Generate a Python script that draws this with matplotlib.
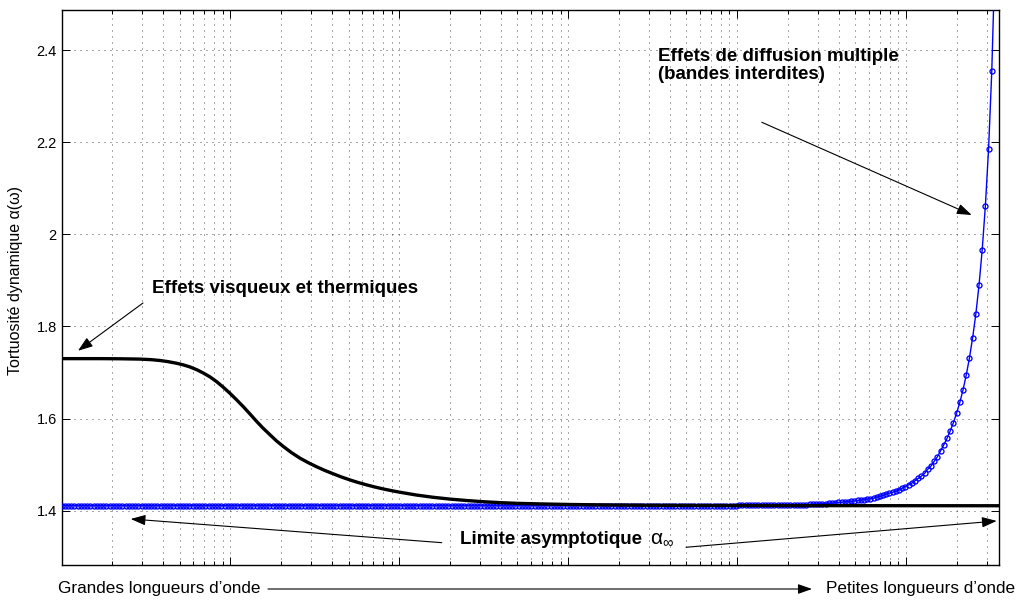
import numpy as np
import matplotlib
matplotlib.use("Agg")
import matplotlib.pyplot as plt
from matplotlib.ticker import LogLocator, NullFormatter, FixedLocator, FixedFormatter

plt.rcParams['font.family'] = ['Liberation Sans', 'DejaVu Sans']
plt.rcParams['mathtext.fontset'] = 'custom'
plt.rcParams['mathtext.rm'] = 'Liberation Sans'
plt.rcParams['mathtext.it'] = 'Liberation Sans:italic'
plt.rcParams['mathtext.bf'] = 'Liberation Sans:bold'

# ---------------- data ----------------
x_min, x_max = 1.0, 3.55e5
y_min, y_max = 1.282, 2.487
y_ticks = [1.4, 1.6, 1.8, 2.0, 2.2, 2.4]
y_tick_labels = ['1.4', '1.6', '1.8', '2', '2.2', '2.4']

# black curve: viscous & thermal effects (log10 of x, value)
black_logx = [0.000, 0.227, 0.350, 0.464, 0.530, 0.582, 0.630, 0.681, 0.720,
              0.760, 0.800, 0.838, 0.878, 0.918, 0.957, 0.996, 1.035, 1.075,
              1.115, 1.154, 1.193, 1.233, 1.272, 1.312, 1.360, 1.411, 1.460,
              1.509, 1.560, 1.608, 1.660, 1.707, 1.750, 1.805, 1.850, 1.904,
              1.950, 2.002, 2.100, 2.199, 2.300, 2.397, 2.500, 2.594, 2.700,
              2.831, 3.000, 3.186, 3.450, 3.778, 4.500, 5.550]
black_y = [1.7300, 1.7300, 1.7297, 1.7290, 1.7278, 1.7260, 1.7235, 1.7200, 1.7165,
           1.7120, 1.7060, 1.6990, 1.6905, 1.6800, 1.6680, 1.6550, 1.6410, 1.6260,
           1.6100, 1.5940, 1.5790, 1.5650, 1.5515, 1.5395, 1.5262, 1.5140, 1.5042,
           1.4954, 1.4870, 1.4800, 1.4726, 1.4667, 1.4617, 1.4560, 1.4517, 1.4471,
           1.4436, 1.4400, 1.4339, 1.4290, 1.4250, 1.4220, 1.4193, 1.4174, 1.4158,
           1.4146, 1.4134, 1.4125, 1.4117, 1.4112, 1.4108, 1.4106]

# blue curve: multiple scattering (sampled on a log grid)
blue_n = 293
blue_logx_end = 5.526
blue_flat = 1.4108
blue_tail = ([1.4110] * 6 + [1.4112] * 6 + [1.4115] * 6 + [1.4120] * 4 +
             [1.4125] * 3 + [1.4130] * 3 + [1.4140] * 3 + [1.4150] * 3 +
             [1.4160, 1.4160, 1.417, 1.418, 1.418, 1.419, 1.419, 1.420, 1.421,
              1.422, 1.423, 1.424, 1.425, 1.426, 1.427, 1.429, 1.431,
              1.433, 1.436, 1.438, 1.440, 1.442, 1.445, 1.449, 1.452, 1.456,
              1.460, 1.465, 1.470, 1.475, 1.481, 1.490, 1.497, 1.507, 1.517,
              1.530, 1.543, 1.557, 1.573, 1.591, 1.612, 1.635, 1.662, 1.694,
              1.731, 1.775, 1.826, 1.889, 1.966, 2.062, 2.186, 2.354, 2.600])
blue_y = [blue_flat] * (blue_n - len(blue_tail)) + blue_tail

black_x = 10.0 ** np.array(black_logx)
blue_x = np.logspace(0, blue_logx_end, blue_n)

# ---------------- figure ----------------
fig = plt.figure(figsize=(10.18, 6.02), dpi=100)
ax = fig.add_axes([0.0605, 0.0615, 0.9209, 0.9219])

ax.plot(blue_x, blue_y, color=(0, 0, 1), lw=1.0, marker='o', ms=3.6,
        mfc='none', mec=(0, 0, 1), mew=0.95, zorder=3)
ax.plot(black_x, black_y, color='k', lw=2.4, zorder=4,
        solid_capstyle='butt', solid_joinstyle='round')

ax.set_xscale('log')
ax.set_xlim(x_min, x_max)
ax.set_ylim(y_min, y_max)
ax.xaxis.set_major_locator(LogLocator(base=10, numticks=20))
ax.xaxis.set_minor_locator(LogLocator(base=10, subs=np.arange(2, 10), numticks=20))
ax.xaxis.set_major_formatter(NullFormatter())
ax.xaxis.set_minor_formatter(NullFormatter())
ax.yaxis.set_major_locator(FixedLocator(y_ticks))
ax.yaxis.set_major_formatter(FixedFormatter(y_tick_labels))

ax.tick_params(which='both', direction='in', top=True, right=True,
               labelbottom=False, width=0.7, color='k')
ax.tick_params(which='major', length=5.8, pad=3.5, labelsize=10.5)
ax.tick_params(which='minor', length=2.9)
ax.tick_params(axis='y', which='minor', left=False, right=False)

grid_kw = dict(color='k', lw=0.6, ls=(0, (1.2, 6)), alpha=0.8)
ax.grid(True, which='major', axis='both', **grid_kw)
ax.grid(True, which='minor', axis='x', **grid_kw)
for s in ax.spines.values():
    s.set_linewidth(1.0)

ax.set_ylabel('Tortuosité dynamique α(ω)', fontsize=11.5)
ax.yaxis.set_label_coords(-0.041, 0.512)

# annotations
ax.text(0.0964, 0.4895, 'Effets visqueux et thermiques', transform=ax.transAxes,
        ha='left', va='baseline', fontsize=13.5, fontweight='bold')
ax.text(0.6366, 0.8757, 'Effets de diffusion multiple\n(bandes interdites)',
        transform=ax.transAxes, ha='left', va='baseline', fontsize=13.5,
        fontweight='bold', linespacing=1.06)
ax.text(0.425, 0.0378, 'Limite asymptotique',
        transform=ax.transAxes, ha='left', va='baseline', fontsize=13.5,
        fontweight='bold')
ax.text(0.6277, 0.0378, r'$\mathrm{\alpha}_{\infty}$',
        transform=ax.transAxes, ha='left', va='baseline', fontsize=15)

arrow_kw = dict(arrowstyle='-|>,head_length=0.9,head_width=0.32', color='k',
                lw=0.8, shrinkA=0, shrinkB=0)
ax.annotate('', xy=(0.0175, 0.386), xytext=(0.0868, 0.472),
            xycoords='axes fraction', arrowprops=arrow_kw)
ax.annotate('', xy=(0.9708, 0.6306), xytext=(0.7469, 0.7977),
            xycoords='axes fraction', arrowprops=arrow_kw)
ax.annotate('', xy=(0.0737, 0.0829), xytext=(0.4055, 0.0402),
            xycoords='axes fraction', arrowprops=arrow_kw)
ax.annotate('', xy=(0.9975, 0.0793), xytext=(0.6661, 0.0319),
            xycoords='axes fraction', arrowprops=arrow_kw)

# x description
yb = 1 - 589 / 602
fig.text(58 / 1018, yb, 'Grandes longueurs d’onde', ha='left', va='center', fontsize=12.3)
fig.text(826 / 1018, yb, 'Petites longueurs d’onde', ha='left', va='center', fontsize=12.3)
ax.annotate('', xy=(812 / 1018, yb), xytext=(268 / 1018, yb),
            xycoords='figure fraction', annotation_clip=False,
            arrowprops=dict(arrowstyle='-|>,head_length=0.85,head_width=0.3',
                            color='k', lw=0.8, shrinkA=0, shrinkB=0))

fig.savefig('out.png', dpi=100)
